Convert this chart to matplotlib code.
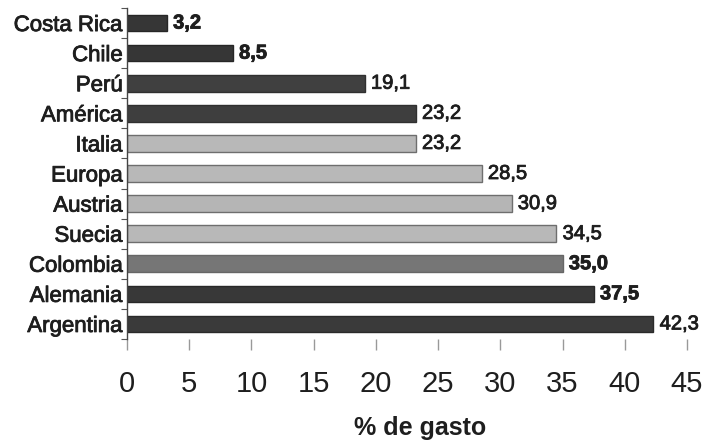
import matplotlib
matplotlib.use("Agg")
import matplotlib.pyplot as plt
import matplotlib.patheffects as pe
import numpy as np

plt.rcParams['font.family'] = ['Liberation Sans', 'DejaVu Sans']

categories = ["Costa Rica", "Chile", "Perú", "América", "Italia", "Europa",
              "Austria", "Suecia", "Colombia", "Alemania", "Argentina"]
values = [3.2, 8.5, 19.1, 23.2, 23.2, 28.5, 30.9, 34.5, 35.0, 37.5, 42.3]
value_labels = ["3,2", "8,5", "19,1", "23,2", "23,2", "28,5", "30,9", "34,5", "35,0", "37,5", "42,3"]
bold_labels = [True, True, False, False, False, False, False, False, True, True, False]
face_colors = ["#363636", "#363636", "#404040", "#3e3e3e", "#b8b8b8", "#b8b8b8",
               "#b5b5b5", "#b8b8b8", "#767676", "#383838", "#3a3a3a"]
edge_colors = ["#262626", "#262626", "#303030", "#303030", "#6e6e6e", "#6e6e6e",
               "#6e6e6e", "#6e6e6e", "#666666", "#282828", "#2a2a2a"]
xticks = [0, 5, 10, 15, 20, 25, 30, 35, 40, 45]

txt_color = "#1e1e1e"
heavy = [pe.withStroke(linewidth=0.6, foreground=txt_color)]

fig = plt.figure(figsize=(7.09, 4.44), dpi=100)
ax = fig.add_axes([127/709, 1 - 339/444, (687 - 127)/709, (339 - 8)/444])

y = np.arange(len(categories))
ax.barh(y, values, height=0.55, color=face_colors, edgecolor=edge_colors, linewidth=1.0)

for yi, v, lab, b in zip(y, values, value_labels, bold_labels):
    ax.annotate(lab, (v, yi), xytext=(4.5, 0), textcoords="offset points",
                va="center", ha="left", fontsize=14.5, color=txt_color,
                fontweight="bold" if b else "normal", path_effects=heavy)

ax.set_ylim(len(categories) - 0.5, -0.5)
ax.set_xlim(0, 45)
ax.set_yticks(y)
ax.set_yticklabels(categories, fontsize=16, color=txt_color)
for t in ax.get_yticklabels():
    t.set_path_effects(heavy)
ax.tick_params(axis="y", length=0, pad=3)
ax.set_yticks(np.arange(-0.5, len(categories), 1.0), minor=True)
ax.tick_params(axis="y", which="minor", length=4, width=0.8, color="#555555", direction="out")

ax.set_xticks(xticks)
ax.set_xticklabels([str(t) for t in xticks], fontsize=21, color=txt_color)
ax.tick_params(axis="x", length=8, width=1.0, color="#999999", direction="out", pad=14)

ax.set_xlabel("% de gasto", fontsize=18, fontweight="bold", color=txt_color)
ax.xaxis.set_label_coords((420 - 127) / (687 - 127), (339 - 428) / (339 - 8))
ax.xaxis.label.set_va("center")

for s in ["top", "right", "bottom"]:
    ax.spines[s].set_visible(False)
ax.spines["left"].set_color("#444444")
ax.spines["left"].set_linewidth(1.0)

fig.savefig("out.png", dpi=100)
